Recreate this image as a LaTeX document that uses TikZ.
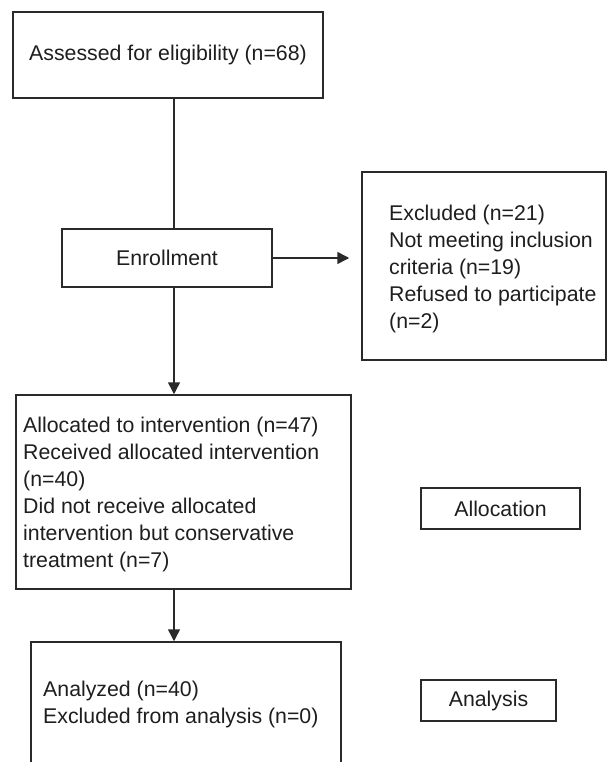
\documentclass[tikz,border=0pt]{standalone}
\usepackage{fontspec}
\setmainfont{Liberation Sans}
\usetikzlibrary{arrows.meta}
\definecolor{linec}{HTML}{2A2A2A}
\definecolor{textc}{HTML}{1E1E1E}
\tikzset{
  box/.style={draw=linec, line width=1.5pt, rectangle, inner sep=0pt, text=textc,
              font=\fontsize{21.3}{27}\selectfont},
  txt/.style={inner sep=0pt, align=left, text=textc, font=\fontsize{21.3}{27}\selectfont},
  conn/.style={draw=linec, line width=1.5pt},
  arr/.style={conn, -{Triangle[length=12pt,width=12pt]}}
}
\begin{document}
\begin{tikzpicture}[x=1pt,y=-1pt]
\clip (0,0) rectangle (608,762);
\fill[white] (0,0) rectangle (608,762);
\coordinate (spine) at (174,0);

\node[box, minimum width=310, minimum height=86] (assess) at (168,55) {Assessed for eligibility (n=68)};
\node[box, minimum width=210, minimum height=58] (enroll) at (167,258) {Enrollment};

\node[box, minimum width=244, minimum height=188] (excl) at (484,266) {};
\node[txt, anchor=west] (exclt) at (389,268.5) {Excluded (n=21)\\Not meeting inclusion\\criteria (n=19)\\Refused to participate\\(n=2)};

\node[box, minimum width=335, minimum height=194] (alloc) at (183.5,492) {};
\node[txt, anchor=west] (alloct) at (23,494) {Allocated to intervention (n=47)\\Received allocated intervention\\(n=40)\\Did not receive allocated\\intervention but conservative\\treatment (n=7)};

\node[box, minimum width=159, minimum height=41] (allocation) at (500.5,508.5) {Allocation};

\node[box, minimum width=310, minimum height=125] (anal) at (186,704.5) {};
\node[txt, anchor=west] (analt) at (43,704.5) {Analyzed (n=40)\\Excluded from analysis (n=0)};

\node[box, minimum width=135, minimum height=41] (analysis) at (488.5,700.5) {Analysis};

\draw[conn] (assess.south -| spine) -- (enroll.north -| spine);
\draw[arr] (enroll.east) -- (enroll.east -| excl.west) [shorten >=12pt];
\draw[arr] (enroll.south -| spine) -- (alloc.north -| spine);
\draw[arr] (alloc.south -| spine) -- (anal.north -| spine);
\end{tikzpicture}
\end{document}
